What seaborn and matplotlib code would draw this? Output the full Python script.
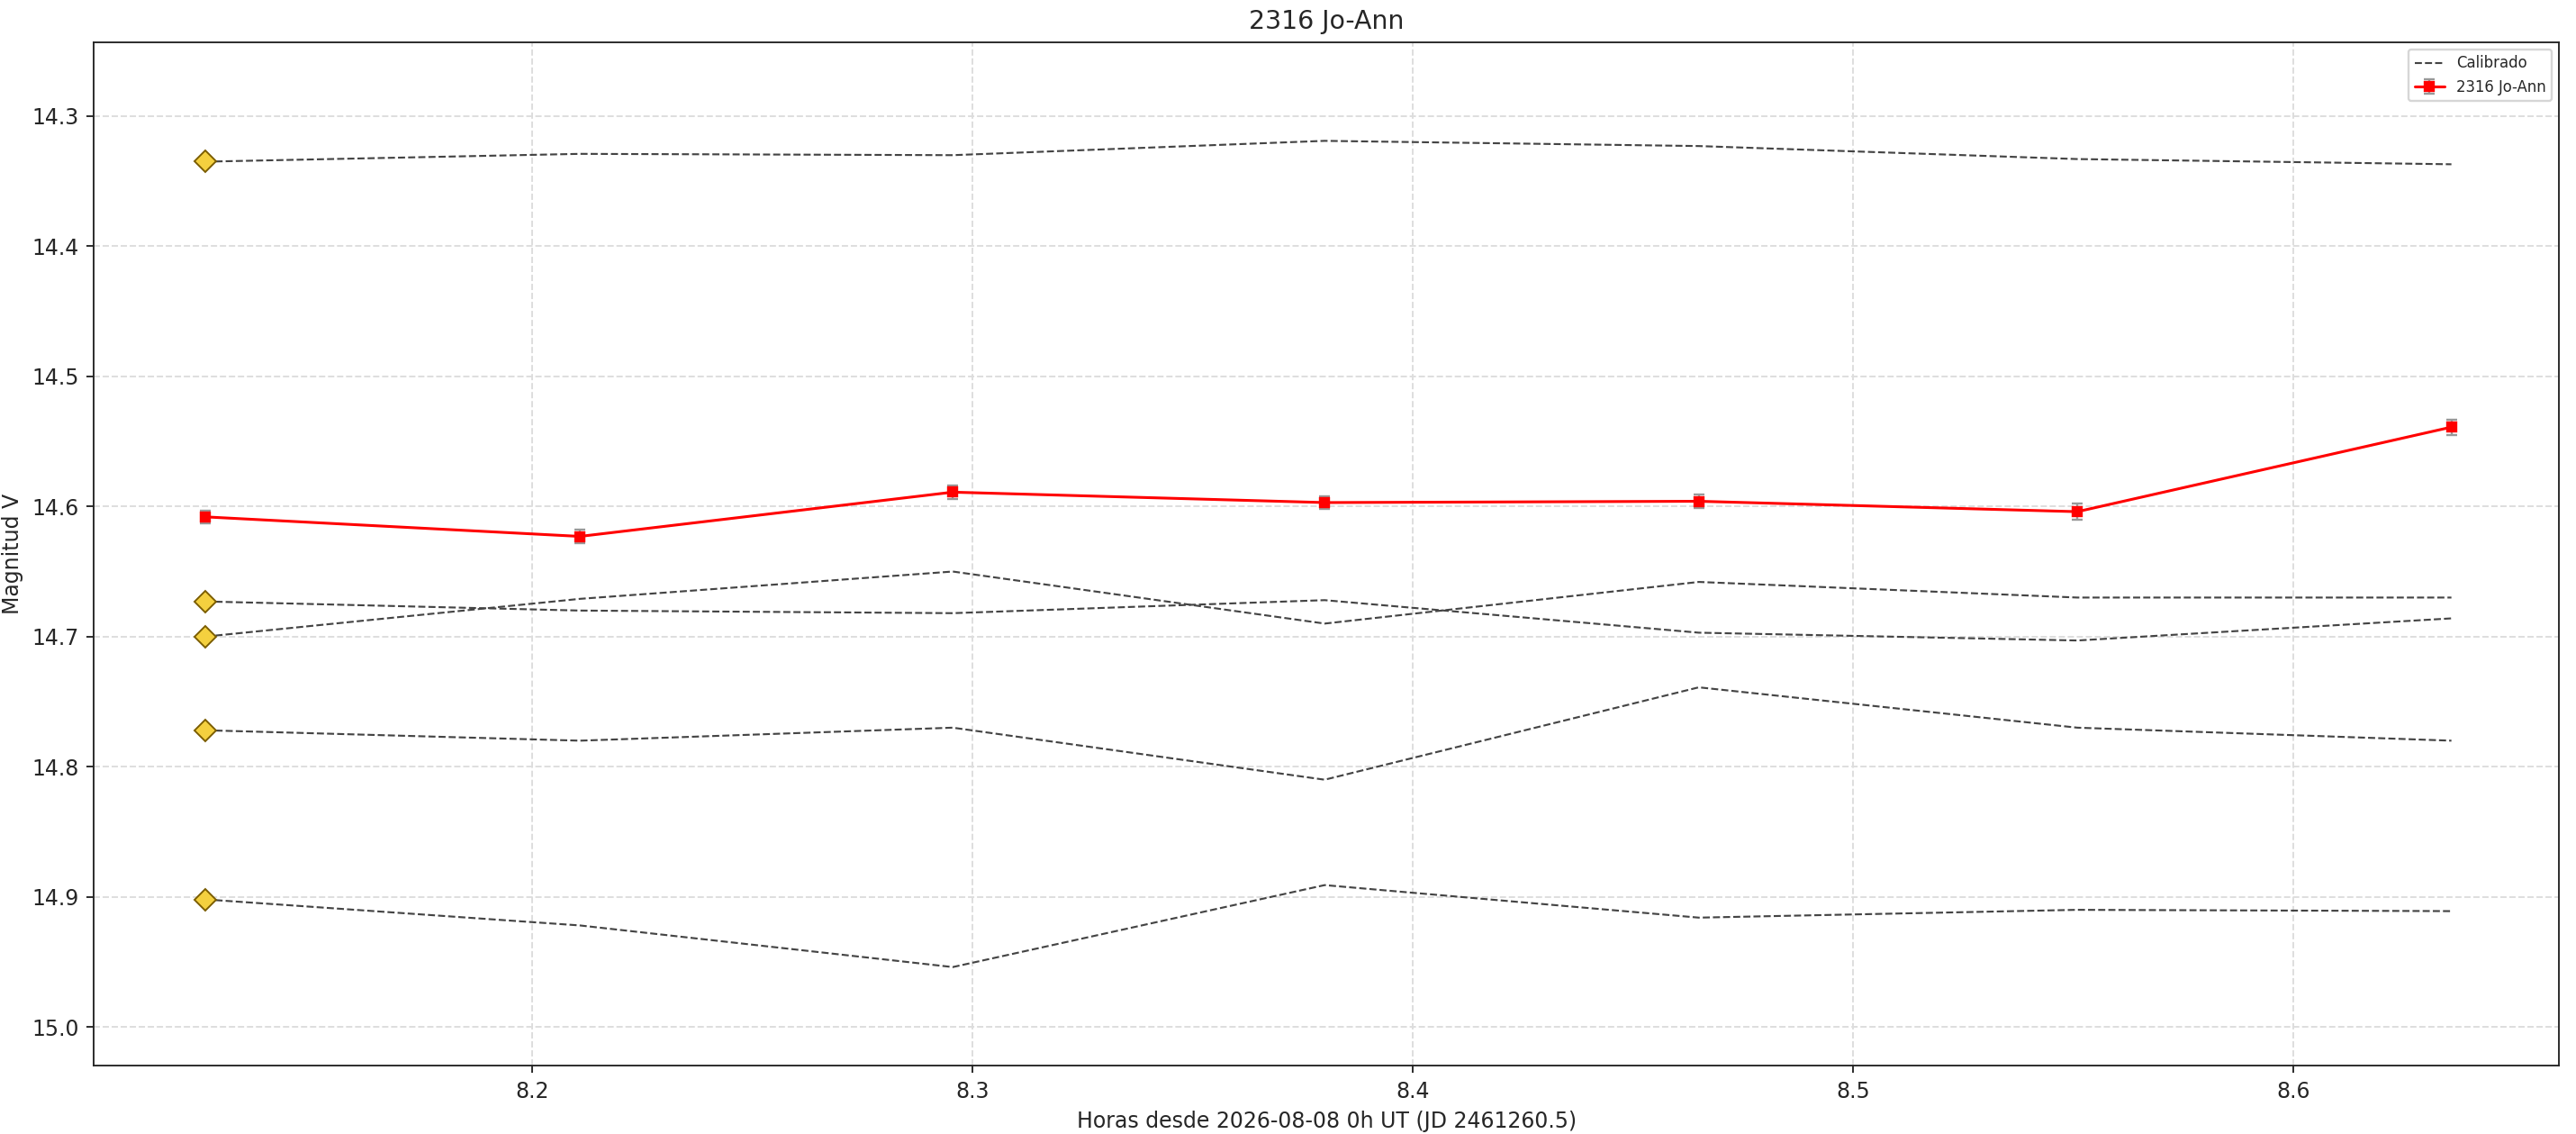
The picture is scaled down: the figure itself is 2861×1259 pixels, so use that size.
import matplotlib
matplotlib.use("Agg")
import matplotlib.pyplot as plt
import seaborn as sns
import pandas as pd

hours = [8.1257, 8.2108, 8.2955, 8.380, 8.465, 8.551, 8.636]
target = [14.608, 14.623, 14.589, 14.597, 14.596, 14.604, 14.539]
target_err = [0.005, 0.005, 0.005, 0.005, 0.005, 0.006, 0.006]
comps = [
    [14.335, 14.329, 14.330, 14.319, 14.323, 14.333, 14.337],
    [14.673, 14.680, 14.682, 14.672, 14.697, 14.703, 14.686],
    [14.700, 14.671, 14.650, 14.690, 14.658, 14.670, 14.670],
    [14.772, 14.780, 14.770, 14.810, 14.739, 14.770, 14.780],
    [14.902, 14.922, 14.954, 14.891, 14.916, 14.910, 14.911],
]

sns.set_style("ticks")
fig, ax = plt.subplots(figsize=(2861 / 170, 1259 / 170), dpi=170)

for i, c in enumerate(comps):
    df = pd.DataFrame({"h": hours, "m": c})
    sns.lineplot(data=df, x="h", y="m", ax=ax, color="#444444", linestyle="--",
                 linewidth=0.9, label="Calibrado" if i == 0 else None)
    ax.plot(hours[0], c[0], marker="D", markersize=7, color="#f4d03f",
            markeredgecolor="#7a5c00", markeredgewidth=0.8, zorder=5)

ax.errorbar(hours, target, yerr=target_err, color="red", marker="s", markersize=4,
            linewidth=1.3, ecolor="#999999", elinewidth=1, capsize=2.5, label="2316 Jo-Ann", zorder=6)

ax.set_xlim(8.1004, 8.6605)
ax.set_ylim(15.030, 14.243)
ax.grid(True, linestyle="--", color="#dddddd", linewidth=0.8)
ax.set_title("2316 Jo-Ann")
ax.set_xlabel("Horas desde 2026-08-08 0h UT (JD 2461260.5)")
ax.set_ylabel("Magnitud V")
ax.legend(loc="upper right", fontsize=7)
fig.subplots_adjust(left=0.0365, right=0.9935, top=0.963, bottom=0.06)
fig.savefig("out.png")
